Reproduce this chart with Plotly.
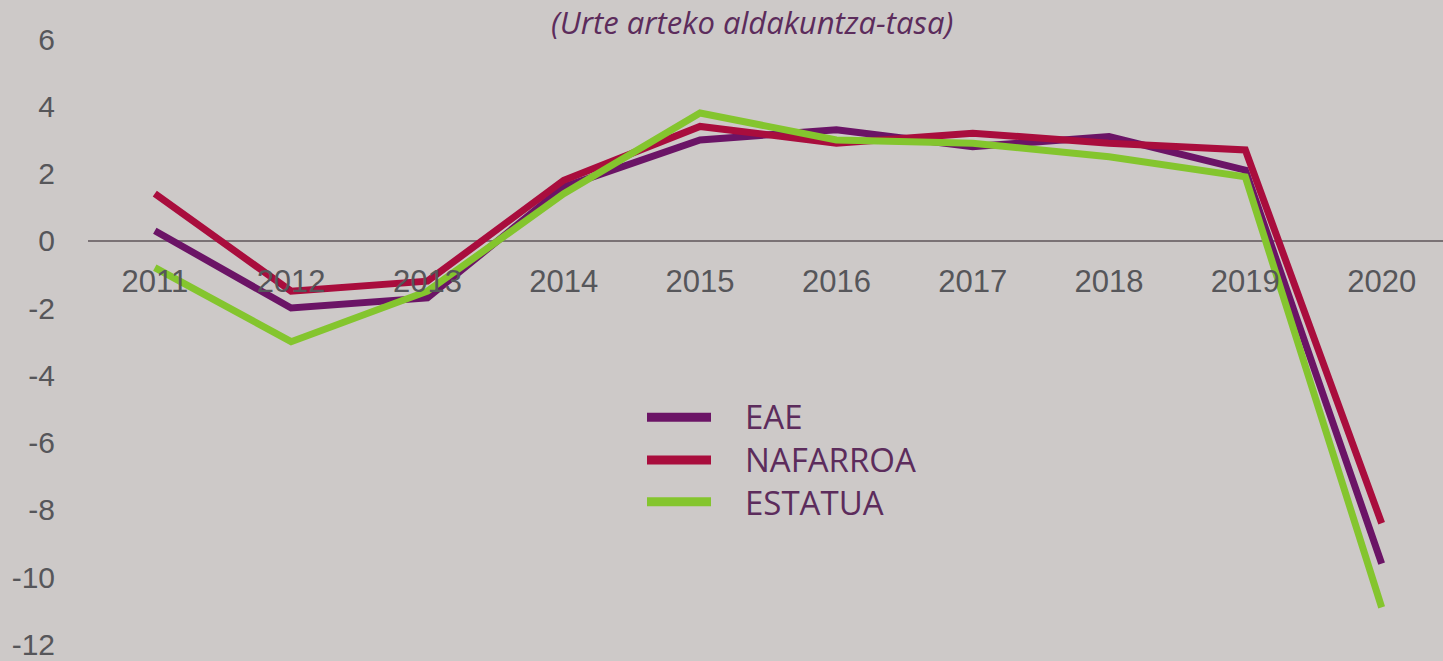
import plotly.graph_objects as go

years = ["2011", "2012", "2013", "2014", "2015", "2016", "2017", "2018", "2019", "2020"]
eae = [0.3, -2.0, -1.7, 1.6, 3.0, 3.3, 2.8, 3.1, 2.1, -9.6]
nafarroa = [1.4, -1.5, -1.2, 1.8, 3.4, 2.9, 3.2, 2.9, 2.7, -8.4]
estatua = [-0.8, -3.0, -1.5, 1.4, 3.8, 3.0, 2.9, 2.5, 1.9, -10.9]
series_names = ["EAE", "NAFARROA", "ESTATUA"]
series_colors = ["#6b1466", "#a90d3d", "#84c52e"]
y_ticks = [-12, -10, -8, -6, -4, -2, 0, 2, 4, 6]
y_ticktext = ["-12", "-10", "-8", "-6", "-4", "-2", "0", "2", "4", "6"]
subtitle = "(Urte arteko aldakuntza-tasa)"

BG = "#cdc9c8"
W, H = 1443, 661
ML, MR, MT, MB = 88, 0, 39, 13
pw, ph = W - ML - MR, H - MT - MB

fig = go.Figure()
for name, vals, col in zip(series_names, [eae, nafarroa, estatua], series_colors):
    fig.add_trace(go.Scatter(
        x=years, y=vals, mode="lines", name=name,
        line=dict(color=col, width=7), showlegend=False,
    ))

# custom legend: swatches + one multi-line text block
leg_rows_px = [419, 462, 504]
for col, py in zip(series_colors, leg_rows_px):
    yp = (H - MB - py) / ph
    fig.add_shape(type="line", xref="paper", yref="paper",
                  x0=(647 - ML) / pw, x1=(711 - ML) / pw, y0=yp, y1=yp,
                  line=dict(color=col, width=9))
fig.add_annotation(xref="paper", yref="paper", x=(743 - ML) / pw, y=(H - MB - 462) / ph,
                   text="<br>".join(series_names), showarrow=False, align="left",
                   xanchor="left", yanchor="middle",
                   font=dict(family="Open Sans", size=33, color="#5c2c5c"))

fig.add_annotation(xref="paper", yref="paper", x=(752 - ML) / pw, y=(H - MB - 22) / ph,
                   text="<i>" + subtitle + "</i>", showarrow=False,
                   xanchor="center", yanchor="middle",
                   font=dict(family="Open Sans", size=31, color="#5c2c5c"))

zero_pos = (H - MB - 242) / ph
fig.update_layout(
    width=W, height=H,
    paper_bgcolor=BG, plot_bgcolor=BG,
    margin=dict(l=ML, r=MR, t=MT, b=MB),
    xaxis=dict(type="category", range=[-0.49, 9.45], showgrid=False, zeroline=False,
               showline=False, anchor="free", position=zero_pos,
               ticks="outside", ticklen=13, tickcolor="rgba(0,0,0,0)",
               tickfont=dict(family="Liberation Sans", size=31, color="#56565a")),
    yaxis=dict(range=[-12.02, 6], tickvals=y_ticks, ticktext=y_ticktext, showgrid=False,
               zeroline=True, zerolinecolor="#7a7275", zerolinewidth=2,
               showline=False, ticks="outside", ticklen=26, tickcolor="rgba(0,0,0,0)",
               ticklabeloverflow="allow",
               tickfont=dict(family="Liberation Sans", size=30, color="#56565a")),
)

fig.write_html("out.html", config={"displayModeBar": False},
               post_script="document.body.style.margin='0';document.body.style.overflow='hidden';")
